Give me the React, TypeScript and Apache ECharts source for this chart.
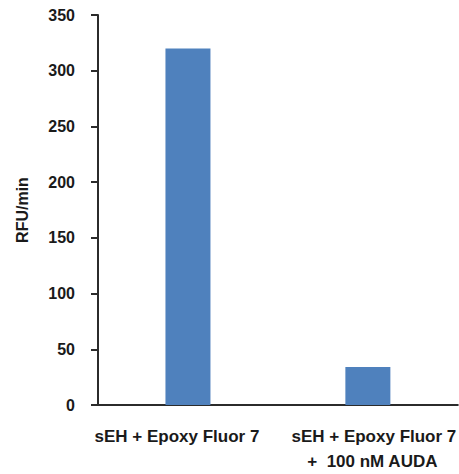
import React, { useEffect, useRef } from "react";
import * as echarts from "echarts";

const categories = ["sEH + Epoxy Fluor 7", "sEH + Epoxy Fluor 7\n+  100 nM AUDA"];
const values = [320, 34];
const yTicks = { min: 0, max: 350, interval: 50 };
const yName = "RFU/min";

export default function App() {
  const ref = useRef<HTMLDivElement>(null);
  useEffect(() => {
    if (!ref.current) return;
    const chart = echarts.init(ref.current, null, { renderer: "svg" });
    const font = "'Liberation Sans', Arial, sans-serif";
    const txt = { fontFamily: font, fontWeight: "bold", fontSize: 17, color: "#1a1a1a", lineHeight: 25 };
    chart.setOption({
      animation: false,
      backgroundColor: "#ffffff",
      grid: { left: 98, top: 15, right: 0, bottom: 65 },
      xAxis: {
        type: "category",
        data: categories,
        axisLine: { lineStyle: { color: "#2b2b2b", width: 2 } },
        axisTick: { show: false },
        axisLabel: {
          margin: 19,
          interval: 0,
          ...txt,
          formatter: (v: string, i: number) => {
            const lines = v.split("\n");
            if (i === 0) return `{a|${lines[0]}}`;
            return `{b|${lines[0]}}\n{c|${lines[1]}}`;
          },
          rich: {
            a: { ...txt, padding: [0, 22, 0, 0] },
            b: { ...txt, padding: [0, 0, 0, 12] },
            c: { ...txt, padding: [0, 0, 0, 9] },
          },
        },
      },
      yAxis: {
        type: "value",
        min: yTicks.min,
        max: yTicks.max,
        interval: yTicks.interval,
        name: yName,
        nameLocation: "middle",
        nameGap: 68,
        nameTextStyle: { fontFamily: font, fontWeight: "bold", fontSize: 16, color: "#1a1a1a" },
        axisLine: { show: true, lineStyle: { color: "#2b2b2b", width: 2 } },
        axisTick: { show: true, length: 7, lineStyle: { color: "#2b2b2b", width: 2 } },
        splitLine: { show: false },
        axisLabel: {
          margin: 23,
          color: "#1a1a1a",
          fontFamily: font,
          fontWeight: "bold",
          fontSize: 16,
        },
      },
      series: [
        {
          type: "bar",
          data: values,
          barWidth: 45,
          itemStyle: { color: "#4F81BD" },
        },
      ],
    });
    return () => chart.dispose();
  }, []);
  return (
    <div
      ref={ref}
      style={{ position: "fixed", left: 0, top: 0, width: 459, height: 474 }}
    />
  );
}
